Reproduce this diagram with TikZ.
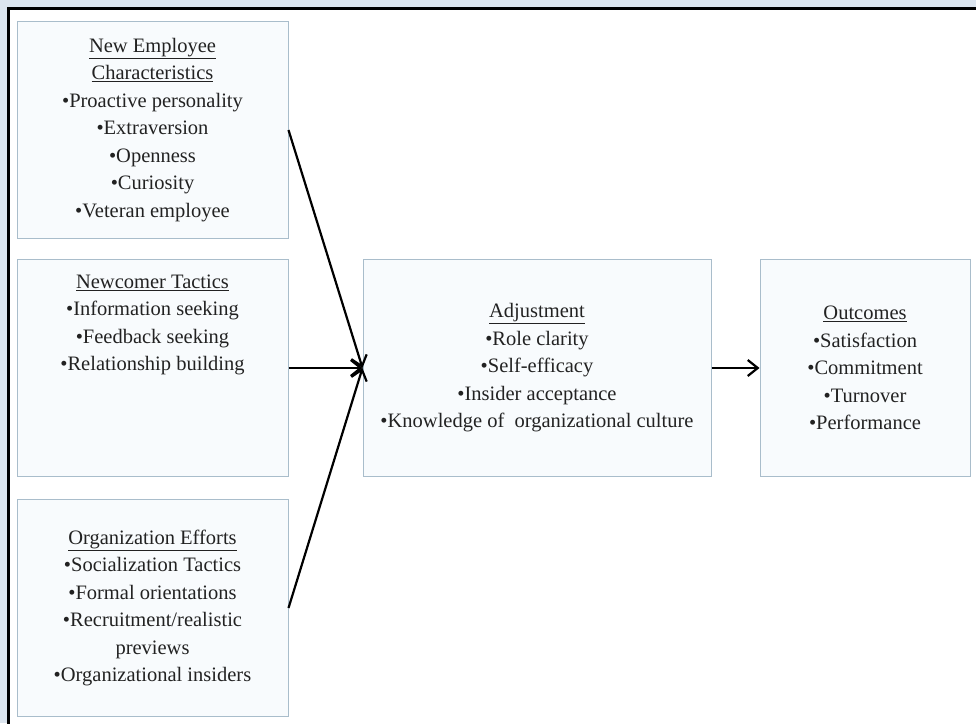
\documentclass[tikz,border=0pt]{standalone}
\usepackage{fontspec}
\setmainfont{Liberation Serif}
\usetikzlibrary{arrows.meta,positioning}
\definecolor{pagebg}{HTML}{DCE5EF}
\definecolor{boxline}{HTML}{A9BDCB}
\definecolor{boxfill}{HTML}{F8FBFD}
\definecolor{inktext}{HTML}{222222}

\begin{document}
\begin{tikzpicture}[x=1pt, y=-1pt, >={Straight Barb[length=10pt,width=16pt]}, node distance=20pt]
    % Styles
    \tikzstyle{panel} = [rectangle, draw=boxline, line width=1pt, fill=boxfill, text=inktext, minimum width=271pt, minimum height=217pt, align=center, font=\fontsize{20.5}{27.5}\selectfont, inner sep=0pt]
    \tikzstyle{link} = [->, line width=2.2pt, black]

    % Frame
    \useasboundingbox (0,0) rectangle (976,723);
    \clip (0,0) rectangle (976,723);
    \fill[pagebg] (0,0) rectangle (976,723);
    \draw[line width=2.5pt, fill=white] (8.5,8.5) rectangle (1000,750);

    % Nodes
    \node[panel] (nec) at (152.5,130) {\underline{New Employee}\\\underline{Characteristics}\\•Proactive personality\\•Extraversion\\•Openness\\•Curiosity\\•Veteran employee};
    \node[panel, below=20pt of nec] (nct) {\underline{Newcomer Tactics}\\•Information seeking\\•Feedback seeking\\•Relationship building\\[55pt]\strut};
    \node[panel, below=22pt of nct] (oef) {\underline{Organization Efforts}\\•Socialization Tactics\\•Formal orientations\\•Recruitment/realistic\\previews\\•Organizational insiders};

    \node[panel, right=74pt of nct, minimum width=348pt] (adj) {\underline{Adjustment}\\•Role clarity\\•Self-efficacy\\•Insider acceptance\\•Knowledge of~ organizational culture};
    \node[panel, right=48pt of adj, minimum width=210pt] (out) {\underline{Outcomes}\\•Satisfaction\\•Commitment\\•Turnover\\•Performance};

    % Arrows
    \draw[link] (nec.east) -- (adj.west);
    \draw[link] (nct.east) -- (adj.west);
    \draw[link] (oef.east) -- (adj.west);
    \draw[link] (adj.east) -- (out.west);

\end{tikzpicture}
\end{document}
